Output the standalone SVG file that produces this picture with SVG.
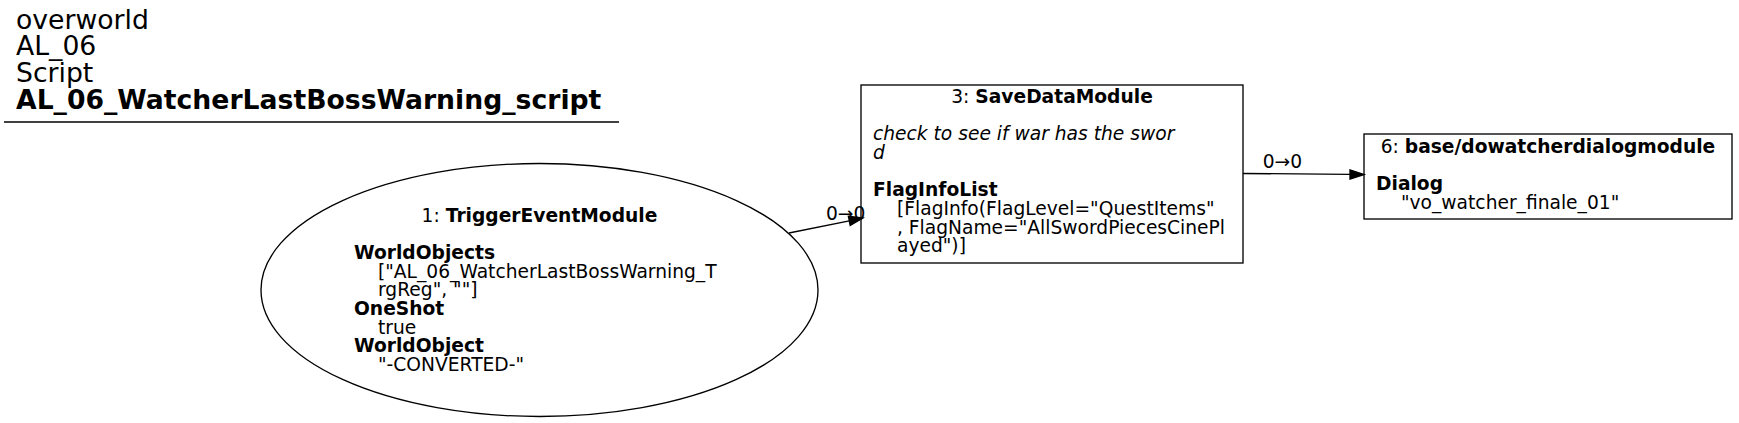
<svg xmlns="http://www.w3.org/2000/svg" width="1739" height="423" viewBox="0 0 1739 423">
<style>
text{font-family:"DejaVu Sans","Liberation Sans",sans-serif;fill:#000}
.t{font-size:26.67px}
.n{font-size:18.67px}
.b{font-weight:bold}
.i{font-style:italic}
.shape{fill:none;stroke:#000;stroke-width:1.33}
.edge{fill:none;stroke:#000;stroke-width:1.33}
.head{fill:#000;stroke:#000;stroke-width:1.33}
</style>
<rect width="1739" height="423" fill="#fff"/>
<g id="title">
<text class="t"><tspan x="16" y="28.5">overworld</tspan><tspan x="16" y="55.2">AL_06</tspan><tspan x="16" y="81.9">Script</tspan><tspan class="b" x="16" y="108.6">AL_06_WatcherLastBossWarning_script</tspan></text>
<line x1="4" y1="122" x2="619" y2="122" stroke="#000" stroke-width="1.33"/>
</g>
<g id="connectors">
<path class="edge" d="M789,233 L849.3,220.8"/>
<polygon class="head" points="863,218 850.2,225.4 848.4,216.2"/>
<text class="n" x="826" y="220">0→0</text>
<path class="edge" d="M1243,173.5 L1350,174.3"/>
<polygon class="head" points="1364,174.5 1350,179.2 1350,169.8"/>
<text class="n" x="1262.7" y="168">0→0</text>
</g>
<g id="node1">
<ellipse class="shape" cx="539.5" cy="290" rx="278.5" ry="126.5"/>
<text class="n" x="539.5" y="222" text-anchor="middle">1: <tspan class="b">TriggerEventModule</tspan></text>
<text class="n b" x="354" y="259">WorldObjects</text>
<text class="n" x="378" y="277.7">["AL_06_WatcherLastBossWarning_T</text>
<text class="n" x="378" y="296.3">rgReg", ""]</text>
<text class="n b" x="354" y="315">OneShot</text>
<text class="n" x="378" y="333.7">true</text>
<text class="n b" x="354" y="352.3">WorldObject</text>
<text class="n" x="378" y="371">"-CONVERTED-"</text>
</g>
<g id="node3">
<rect class="shape" x="861" y="85" width="382" height="178"/>
<text class="n" x="1052" y="103" text-anchor="middle">3: <tspan class="b">SaveDataModule</tspan></text>
<text class="n i" x="873" y="140.3">check to see if war has the swor</text>
<text class="n i" x="873" y="159">d</text>
<text class="n b" x="873" y="196.3">FlagInfoList</text>
<text class="n" x="897" y="215">[FlagInfo(FlagLevel="QuestItems"</text>
<text class="n" x="897" y="233.7">, FlagName="AllSwordPiecesCinePl</text>
<text class="n" x="897" y="252.3">ayed")]</text>
</g>
<g id="node6">
<rect class="shape" x="1364" y="134" width="368" height="85"/>
<text class="n" x="1548" y="153" text-anchor="middle">6: <tspan class="b">base/dowatcherdialogmodule</tspan></text>
<text class="n b" x="1376" y="190.3">Dialog</text>
<text class="n" x="1401" y="209">"vo_watcher_finale_01"</text>
</g>
</svg>
